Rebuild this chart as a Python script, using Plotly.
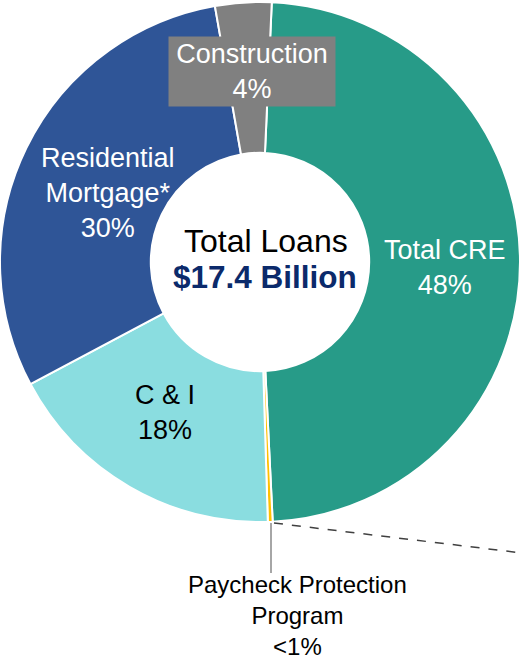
import plotly.graph_objects as go

# Loan mix, clockwise from 12 o'clock (shares)
categories = ['Total CRE', 'Paycheck Protection Program', 'C & I',
              'Residential Mortgage*', 'Construction']
shares = [48.5, 0.3, 17.7, 30.0, 3.5]
share_labels = ['48%', '<1%', '18%', '30%', '4%']
total_label = '$17.4 Billion'

COLORS = ['#279B88', '#FFC000', '#8ADDE0', '#2F5597', '#808080']
FONT = 'Liberation Sans, Arial, sans-serif'
W, H = 520, 655


def px(x):
    return x / W


def py(y):
    return 1 - y / H


fig = go.Figure()
fig.add_trace(go.Pie(
    labels=categories,
    values=shares,
    sort=False,
    direction='clockwise',
    rotation=2.6,
    hole=0.42,
    textinfo='none',
    hoverinfo='label+percent',
    marker=dict(colors=COLORS, line=dict(color='white', width=2)),
    domain=dict(x=[0, 1], y=[0.2, 1.0]),
    showlegend=False,
))


# Slice labels
def label(text, x, y, color='white', size=27, **kw):
    fig.add_annotation(
        text=text, x=px(x), y=py(y), xref='paper', yref='paper',
        showarrow=False, xanchor='center', yanchor='middle',
        font=dict(family=FONT, size=size, color=color), **kw,
    )


label(f'{categories[0]}<br>{share_labels[0]}', 445, 267)
label(f'Residential<br>Mortgage*<br>{share_labels[3]}', 108, 193)
label(f'{categories[2]}<br>{share_labels[2]}', 165, 412, color='black')
label(f'{categories[4]}<br>{share_labels[4]}', 252, 72,
      bgcolor='#808080', width=166, height=69, borderpad=0)
label(f'Paycheck Protection<br>Program<br>{share_labels[1]}', 297, 615,
      color='black', size=24)

# Center text
label('Total Loans', 266, 241, color='black', size=32)
label(f'<b>{total_label}</b>', 265, 277, color='#0B2A6B', size=31.5)

# Leader line and dashed connector from the PPP sliver
fig.add_shape(type='line', xref='paper', yref='paper',
              x0=px(271), y0=py(523), x1=px(271), y1=py(573),
              line=dict(color='#A6A6A6', width=2))
fig.add_shape(type='line', xref='paper', yref='paper',
              x0=px(274), y0=py(523), x1=px(522), y1=py(553),
              line=dict(color='#404040', width=1.5, dash='dash'))

fig.update_layout(
    width=W, height=H,
    margin=dict(l=0, r=0, t=0, b=0),
    paper_bgcolor='white',
    plot_bgcolor='white',
)

fig.write_html(
    'out.html',
    config={'displayModeBar': False},
    post_script="document.body.style.margin='0';"
                "document.body.style.overflow='hidden';",
)
